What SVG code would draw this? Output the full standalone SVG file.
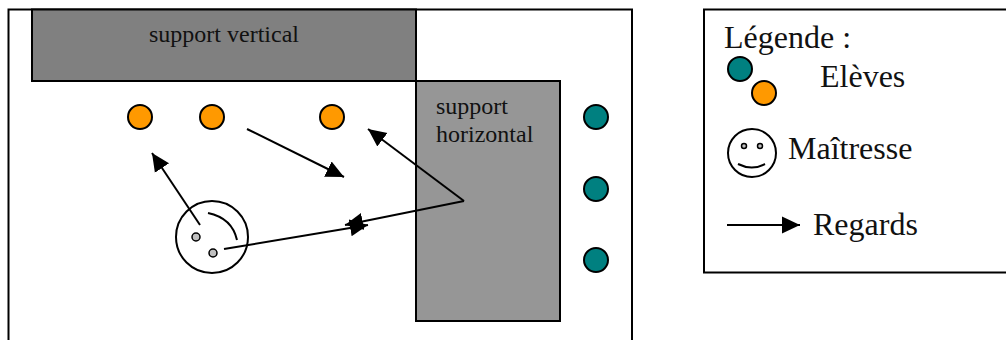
<svg xmlns="http://www.w3.org/2000/svg" width="1006" height="340" viewBox="0 0 1006 340">
<style>
text{font-family:"Liberation Serif","Times New Roman",serif;fill:#111}
.s{font-size:24px}.l{font-size:32px}
.b{stroke:#000;stroke-width:2}
.o{fill:#f90}.t{fill:#008080}
.c{stroke:#000;stroke-width:2;fill:none}
.a{stroke:#000;stroke-width:2;fill:none;marker-end:url(#h)}
.e{fill:#c0c0c0;stroke:#000;stroke-width:1.500}
</style>
<defs>
<marker id="h" markerUnits="userSpaceOnUse" markerWidth="19" markerHeight="19" refX="18" refY="9" orient="auto">
<path d="M0 0.500L18 9L0 17.500z" fill="#000"/>
</marker>
</defs>
<rect width="1006" height="340" fill="#fff"/>
<g id="room"><path class="c" d="M8.500 340V9.500H632V340"/></g>
<g id="support-horizontal"><rect class="b" x="416" y="81" width="144" height="240" fill="#969696"/><text class="s" x="436" y="114">support</text><text class="s" x="436" y="142">horizontal</text></g>
<g id="support-vertical"><rect class="b" x="32" y="9.500" width="384" height="71.500" fill="#808080"/><text class="s" x="149" y="42">support vertical</text></g>
<g id="eleve-o1"><circle class="b o" cx="140" cy="117" r="12"/></g>
<g id="eleve-o2"><circle class="b o" cx="212" cy="117" r="12"/></g>
<g id="eleve-o3"><circle class="b o" cx="332" cy="117" r="12"/></g>
<g id="eleve-t1"><circle class="b t" cx="596" cy="117" r="12"/></g>
<g id="eleve-t2"><circle class="b t" cx="596" cy="189" r="12"/></g>
<g id="eleve-t3"><circle class="b t" cx="596" cy="260" r="12"/></g>
<g id="maitresse"><circle class="c" cx="212" cy="237" r="36"/><path class="c" d="M208 213Q232 218 237 240"/><circle class="e" cx="196" cy="237" r="4"/><circle class="e" cx="213" cy="253" r="4"/></g>
<g id="connectors">
<path class="a" d="M200 225L152 153"/>
<path class="a" d="M247 129L344 177"/>
<path class="a" d="M464 201L368 129"/>
<path class="a" d="M464 201L345 225"/>
<path class="a" d="M224 249L368 225"/>
<path class="a" d="M727 225H800"/>
</g>
<g id="legende"><rect x="704" y="9.500" width="320" height="263" fill="none" stroke="#000" stroke-width="2"/><text class="l" x="724" y="48">Légende :</text></g>
<g id="legende-eleves"><circle class="b t" cx="740" cy="69" r="12"/><circle class="b o" cx="764" cy="93" r="12"/><text class="l" x="820" y="87">Elèves</text></g>
<g id="legende-maitresse"><circle class="c" cx="752" cy="153" r="24"/><circle class="e" cx="744" cy="146" r="2.500"/><circle class="e" cx="760" cy="146" r="2.500"/><path class="c" d="M738 164Q752 171 765 164"/><text class="l" x="788" y="159">Maîtresse</text></g>
<g id="legende-regards"><text class="l" x="813" y="235">Regards</text></g>
</svg>
